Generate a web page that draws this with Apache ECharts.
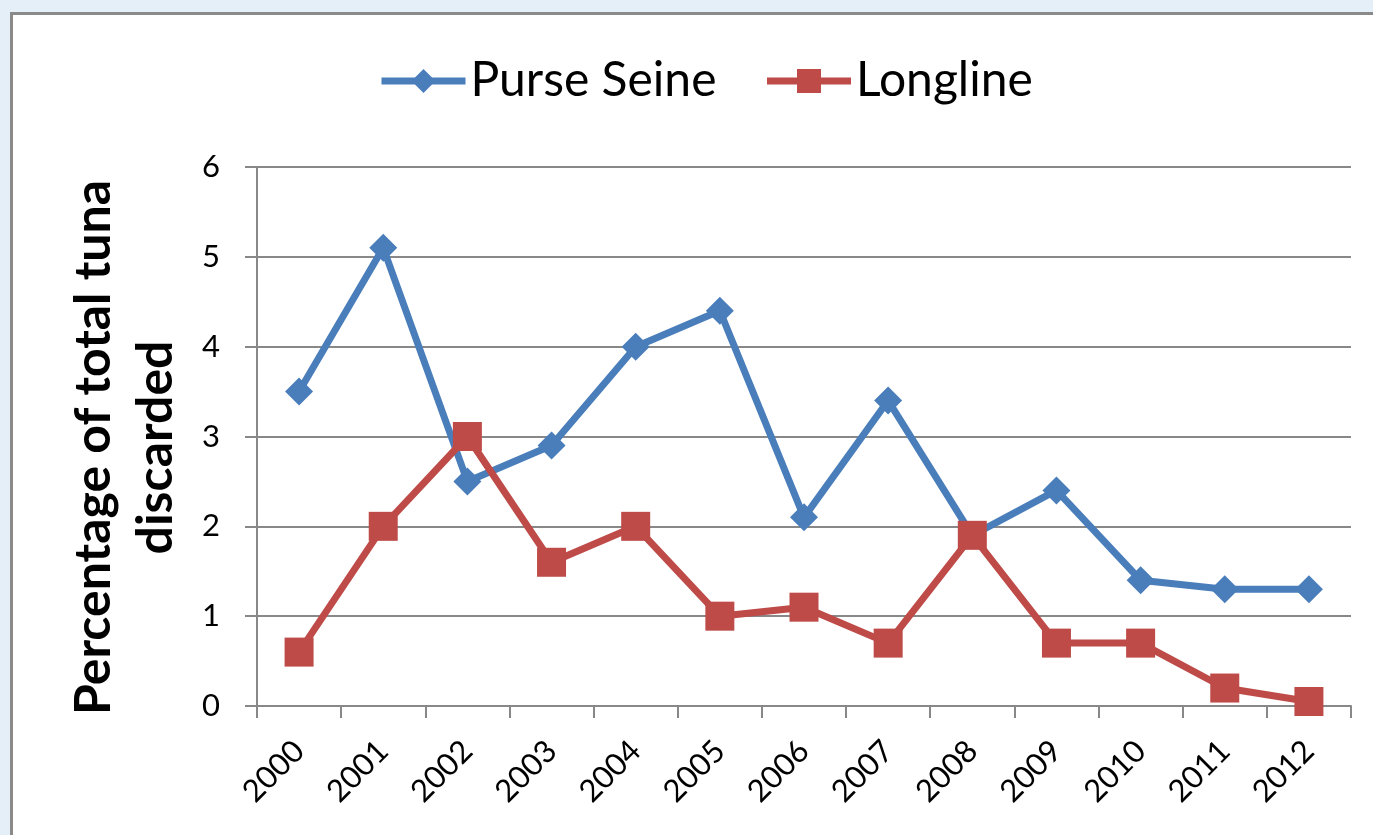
<!DOCTYPE html>
<html><head><meta charset="utf-8">
<script src="https://cdn.jsdelivr.net/npm/echarts@6/dist/echarts.min.js"></script>
<style>html,body{margin:0;padding:0;background:#e4eff7;}#c{width:1373px;height:835px;}</style>
</head><body><div id="c"></div>
<script>
const years = ['2000','2001','2002','2003','2004','2005','2006','2007','2008','2009','2010','2011','2012'];
const purseSeine = [3.5, 5.1, 2.5, 2.9, 4.0, 4.4, 2.1, 3.4, 1.9, 2.4, 1.4, 1.3, 1.3];
const longline = [0.6, 2.0, 3.0, 1.6, 2.0, 1.0, 1.1, 0.7, 1.9, 0.7, 0.7, 0.2, 0.05];
const yTicks = [0, 1, 2, 3, 4, 5, 6];

const font = 'Lato, "Open Sans", sans-serif';
const chart = echarts.init(document.getElementById('c'), null, {renderer: 'canvas'});
chart.setOption({
  animation: false,
  graphic: [{
    type: 'rect', z: -10, silent: true,
    shape: {x: 11.5, y: 13.5, width: 1400, height: 900},
    style: {fill: '#ffffff', stroke: '#8a8a8a', lineWidth: 3}
  }],
  legend: {
    top: 57, left: 378, padding: 0,
    itemWidth: 84, itemHeight: 30, itemGap: 47,
    lineStyle: {width: 7},
    textStyle: {fontFamily: font, fontSize: 48, color: '#000'},
    data: ['Purse Seine', 'Longline']
  },
  grid: {left: 257, right: 22, top: 167, bottom: 129, containLabel: false},
  xAxis: {
    type: 'category', data: years, boundaryGap: true,
    axisLine: {lineStyle: {color: '#888', width: 2}},
    axisTick: {show: true, length: 12, lineStyle: {color: '#888', width: 2}},
    axisLabel: {rotate: 45, margin: 40, fontFamily: font, fontSize: 31, color: '#000'}
  },
  yAxis: {
    type: 'value', min: yTicks[0], max: yTicks[yTicks.length - 1], interval: 1,
    name: 'Percentage of total tuna\ndiscarded', nameLocation: 'middle', nameGap: 70,
    nameTextStyle: {fontFamily: font, fontSize: 50, fontWeight: 'bold', color: '#000', lineHeight: 62, padding: [0, 22, 0, 0]},
    axisLine: {show: true, lineStyle: {color: '#888', width: 2}},
    axisTick: {show: true, length: 12, lineStyle: {color: '#888', width: 2}},
    splitLine: {lineStyle: {color: '#888', width: 2}},
    axisLabel: {margin: 37, fontFamily: font, fontSize: 31, color: '#000'}
  },
  series: [{
    name: 'Purse Seine', type: 'line', data: purseSeine,
    symbol: 'diamond', symbolSize: 28,
    lineStyle: {width: 7, color: '#4a7ebb'},
    itemStyle: {color: '#4a7ebb'}
  }, {
    name: 'Longline', type: 'line', data: longline,
    symbol: 'rect', symbolSize: 29,
    lineStyle: {width: 7, color: '#be4b48'},
    itemStyle: {color: '#be4b48'}
  }]
});
</script></body></html>
